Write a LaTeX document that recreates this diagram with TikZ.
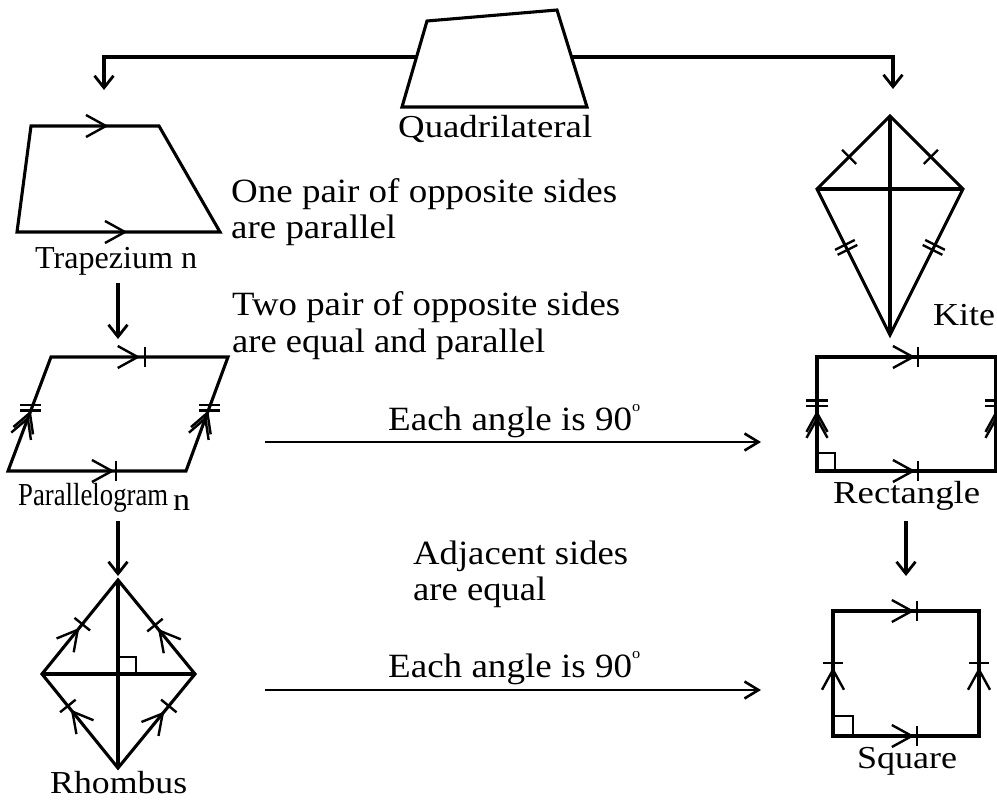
\documentclass[tikz,border=0pt]{standalone}
\usepackage{fontspec}
\setmainfont{Liberation Serif}
\usepackage{graphicx}
\usetikzlibrary{arrows.meta,decorations.markings}
\newcommand\fw[2]{\resizebox{#1pt}{\height}{#2}}
\newcommand\dg{\raisebox{0.55em}{\fontsize{15}{15}\selectfont o}}
\tikzset{
  shp/.style={line width=3.1pt, line join=miter},
  mk/.style={line width=2.4pt},
  ra/.style={line width=2.4pt},
  conn/.style={line width=3.1pt, -{Straight Barb[length=12pt,width=19pt,line width=2.8pt]}},
  hconn/.style={line width=2.6pt, -{Straight Barb[length=14pt,width=17pt,line width=2.6pt]}},
  mtext/.style={inner sep=0pt, anchor=base west, font=\fontsize{34}{38}\selectfont},
  ltext/.style={inner sep=0pt, anchor=base west, font=\fontsize{32}{36}\selectfont},
  mchev/.style={postaction={decorate,decoration={markings,mark=at position #1 with {\draw[mk] (-20pt,11pt) -- (0pt,0pt) -- (-20pt,-11pt);}}}},
  mdchev/.style={postaction={decorate,decoration={markings,mark=at position #1 with {\draw[mk] (-19pt,10.5pt) -- (0pt,0pt) -- (-19pt,-10.5pt) (-25pt,10.5pt) -- (-6pt,0pt) -- (-25pt,-10.5pt);}}}},
  mtick/.style={postaction={decorate,decoration={markings,mark=at position #1 with {\draw[mk] (0pt,-10pt) -- (0pt,10pt);}}}},
  mdtick/.style={postaction={decorate,decoration={markings,mark=at position #1 with {\draw[mk] (-2.8pt,-11pt) -- (-2.8pt,11pt) (2.8pt,-11pt) -- (2.8pt,11pt);}}}},
}
\begin{document}
\begin{tikzpicture}[x=1pt,y=-1pt]
\useasboundingbox[fill=white] (0,0) rectangle (997,800);

% ---------- Quadrilateral ----------
\coordinate (q1) at (427,21); \coordinate (q2) at (557,10);
\coordinate (q3) at (587,107); \coordinate (q4) at (402,107);
\draw[shp] (q1) -- (q2) -- (q3) -- (q4) -- cycle;
\node[ltext] (quadlab) at (398,137) {\fw{194}{Quadrilateral}};

% ---------- Trapezium ----------
\coordinate (t1) at (31,126); \coordinate (t2) at (159,126);
\coordinate (t3) at (220,232); \coordinate (t4) at (17,232);
\draw[shp] (t1) -- (t2) -- (t3) -- (t4) -- cycle;
\path[mchev=0.586] (t1) -- (t2);
\path[mchev=0.532] (t4) -- (t3);
\node[ltext] (traplab) at (35,268) {\fw{162}{Trapezium n}};

% ---------- Kite ----------
\coordinate (kT) at (890,116); \coordinate (kR) at (963,189);
\coordinate (kB) at (890,335); \coordinate (kL) at (817,189);
\draw[shp] (kT) -- (kR) -- (kB) -- (kL) -- cycle;
\draw[shp] (kT) -- (kB) (kL) -- (kR);
\path[mtick=0.44] (kL) -- (kT);
\path[mtick=0.44] (kR) -- (kT);
\path[mdtick=0.40] (kL) -- (kB);
\path[mdtick=0.40] (kR) -- (kB);
\node[ltext] (kitelab) at (933,325) {\fw{62}{Kite}};

% ---------- Parallelogram ----------
\coordinate (p1) at (51,357); \coordinate (p2) at (228,357);
\coordinate (p3) at (186,471); \coordinate (p4) at (8,471);
\draw[shp] (p1) -- (p2) -- (p3) -- (p4) -- cycle;
\path[mchev=0.49, mtick=0.53] (p1) -- (p2);
\path[mchev=0.584, mtick=0.607] (p4) -- (p3);
\path[mdchev=0.51] (p4) -- (p1);
\path[mdchev=0.51] (p3) -- (p2);
\draw[mk] (20,405) -- (41,405) (20,410.5) -- (41,410.5);
\draw[mk] (199,405) -- (220,405) (199,410.5) -- (220,410.5);
\node[ltext] (paralab) at (18,505) {\fw{150}{Parallelogram}};
\node[ltext] (paran) at (173,510) {\fw{17}{n}};

% ---------- Rectangle ----------
\coordinate (r1) at (817,357); \coordinate (r2) at (996,357);
\coordinate (r3) at (996,471); \coordinate (r4) at (817,471);
\draw[shp] (r1) -- (r2) -- (r3) -- (r4) -- cycle;
\path[mchev=0.536, mtick=0.564] (r1) -- (r2);
\path[mchev=0.536, mtick=0.564] (r4) -- (r3);
\path[mdchev=0.51, mdtick=0.595] (r4) -- (r1);
\path[mdchev=0.51, mdtick=0.595] (r3) -- (r2);
\draw[ra] (817,453) -- (835,453) -- (835,471);
\node[ltext] (rectlab) at (833,503) {\fw{147}{Rectangle}};

% ---------- Rhombus ----------
\coordinate (hT) at (118,580); \coordinate (hR) at (195,674);
\coordinate (hB) at (118,768); \coordinate (hL) at (42,674);
\draw[shp] (hT) -- (hR) -- (hB) -- (hL) -- cycle;
\draw[shp] (hT) -- (hB) (hL) -- (hR);
\path[mchev=0.47, mtick=0.53] (hL) -- (hT);
\path[mchev=0.46, mtick=0.52] (hR) -- (hT);
\path[mchev=0.60, mtick=0.66] (hB) -- (hL);
\path[mchev=0.58, mtick=0.66] (hB) -- (hR);
\draw[ra] (118,657) -- (136,657) -- (136,674);
\node[ltext] (rhomlab) at (50,793) {\fw{137}{Rhombus}};

% ---------- Square ----------
\coordinate (s1) at (833,611); \coordinate (s2) at (979,611);
\coordinate (s3) at (979,736); \coordinate (s4) at (833,736);
\draw[shp] (s1) -- (s2) -- (s3) -- (s4) -- cycle;
\path[mchev=0.54, mtick=0.575] (s1) -- (s2);
\path[mchev=0.54, mtick=0.575] (s4) -- (s3);
\path[mchev=0.53, mtick=0.584] (s4) -- (s1);
\path[mchev=0.53, mtick=0.584] (s3) -- (s2);
\draw[ra] (833,716) -- (853,716) -- (853,736);
\node[ltext] (sqlab) at (857,768) {\fw{100}{Square}};

% ---------- Connectors ----------
\coordinate (qa) at (416.5,57); \coordinate (ta) at (104,90);
\coordinate (qb) at (571.5,57); \coordinate (ka) at (893,89);
\draw[conn] (qa) -| (ta);
\draw[conn] (qb) -| (ka);
\coordinate (tp1) at (118,283); \coordinate (pp1) at (118,339);
\draw[conn] (tp1) -- (pp1);
\coordinate (pp2) at (118,521); \coordinate (hh1) at (118,576);
\draw[conn] (pp2) -- (hh1);
\coordinate (rs1) at (906,521); \coordinate (ss1) at (906,576);
\draw[conn] (rs1) -- (ss1);
\coordinate (h1a) at (265,442); \coordinate (h1b) at (761,442);
\draw[hconn] (h1a) -- (h1b);
\coordinate (h2a) at (265,690); \coordinate (h2b) at (761,690);
\draw[hconn] (h2a) -- (h2b);

% ---------- Texts ----------
\node[mtext] (one1) at (231,202) {\fw{386}{One pair of opposite sides}};
\node[mtext] (one2) at (231,238) {\fw{165}{are parallel}};
\node[mtext] (two1) at (232,315) {\fw{388}{Two pair of opposite sides}};
\node[mtext] (two2) at (232,352) {\fw{313}{are equal and parallel}};
\node[mtext] (ang1) at (388,430) {\fw{252}{Each angle is 90\dg}};
\node[mtext] (adj1) at (413,564) {\fw{215}{Adjacent sides}};
\node[mtext] (adj2) at (413,600) {\fw{133}{are equal}};
\node[mtext] (ang2) at (388,677) {\fw{252}{Each angle is 90\dg}};
\end{tikzpicture}
\end{document}
